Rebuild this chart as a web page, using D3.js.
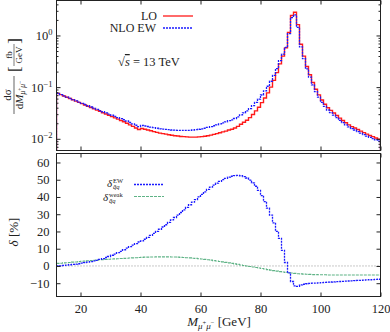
<!DOCTYPE html>
<html>
<head>
<meta charset="utf-8">
<script src="https://cdn.jsdelivr.net/npm/d3@7"></script>
<style>
  body { margin: 0; background: #fff; }
  svg text { font-family: "Liberation Serif", "DejaVu Serif", serif; fill: #222; }
</style>
</head>
<body>
<div id="chart"></div>
<script>
// lower edge of each 1 GeV bin in M(mu+mu-)
const massBins = [12,13,14,15,16,17,18,19,20,21,22,23,24,25,26,27,28,29,30,31,32,33,34,35,36,37,38,39,
  40,41,42,43,44,45,46,47,48,49,50,51,52,53,54,55,56,57,58,59,60,61,62,63,64,65,66,67,68,69,
  70,71,72,73,74,75,76,77,78,79,80,81,82,83,84,85,86,87,88,89,90,91,92,93,94,95,96,97,98,99,
  100,101,102,103,104,105,106,107,108,109,110,111,112,113,114,115,116,117,118,119];
const massEnd = 120;

// dsigma/dM [fb/GeV]
const lo = [0.0759,0.0716,0.0676,0.0638,0.0603,0.0569,0.0537,0.0507,0.0479,0.0452,0.0427,0.0403,0.0380,0.0359,0.0339,0.0320,
  0.0302,0.0285,0.0269,0.0254,0.0240,0.0226,0.0214,0.0200,0.0186,0.0174,0.0162,0.0151,
  0.0158,0.0153,0.0148,0.0143,0.0138,0.0133,0.0129,0.0126,0.0123,0.0120,0.0117,0.0115,0.0113,0.0111,0.0110,0.0109,0.0108,0.0108,
  0.0108,0.0109,0.0110,0.0112,0.0115,0.0118,0.0122,0.0126,0.0131,0.0136,0.0141,0.0148,0.0153,0.0162,0.0174,0.0191,0.0209,0.0229,
  0.0257,0.0295,0.0347,0.0407,0.0501,0.0617,0.0776,0.100,0.135,0.191,0.282,0.398,0.575,1.14,2.44,2.82,1.62,0.676,0.398,0.251,
  0.174,0.123,0.0912,0.0708,0.0562,0.0468,0.0398,0.0355,0.0316,0.0282,0.0251,0.0226,0.0204,0.0186,0.0172,0.0162,0.0151,0.0141,
  0.0132,0.0123,0.0116,0.0110,0.0104,0.0098];
const nloEW = [0.0759,0.0717,0.0678,0.0641,0.0607,0.0574,0.0543,0.0514,0.0487,0.0461,0.0436,0.0413,0.0391,0.0371,0.0352,0.0334,
  0.0317,0.0301,0.0286,0.0272,0.0258,0.0245,0.0234,0.0221,0.0207,0.0195,0.0183,0.0172,
  0.0181,0.0177,0.0173,0.0168,0.0164,0.0160,0.0156,0.0154,0.0152,0.0150,0.0148,0.0147,0.0146,0.0145,0.0146,0.0146,0.0146,0.0148,
  0.0150,0.0153,0.0156,0.0160,0.0166,0.0172,0.0179,0.0186,0.0195,0.0204,0.0213,0.0224,0.0233,0.0247,0.0265,0.0291,0.0317,0.0346,
  0.0385,0.0437,0.0507,0.0585,0.0705,0.0847,0.104,0.130,0.169,0.229,0.327,0.434,0.587,1.09,2.22,2.50,1.43,0.602,0.356,0.225,
  0.156,0.111,0.0822,0.0639,0.0508,0.0424,0.0361,0.0322,0.0287,0.0256,0.0228,0.0206,0.0186,0.0170,0.0157,0.0148,0.0138,0.0129,
  0.0121,0.0113,0.0107,0.0101,0.00959,0.00905];

// relative corrections [%]
const deltaEW = [0.0,0.1,0.3,0.5,0.7,0.9,1.1,1.3,1.6,1.9,2.2,2.5,2.9,3.3,3.8,4.3,4.9,5.5,6.2,6.9,7.7,8.5,9.4,10.3,11.2,12.1,13.0,13.9,
  14.5,15.5,16.6,17.7,18.9,20.1,21.3,22.6,23.9,25.3,26.7,28.1,29.5,31.0,32.5,34.0,35.5,37.0,38.5,40.0,41.5,43.0,44.4,45.7,46.9,48.0,
  49.0,50.0,50.8,51.5,52.0,52.4,52.5,52.3,51.8,51.0,49.8,48.2,46.2,43.8,40.8,37.3,33.5,29.5,25.0,20.0,16.0,9.0,2.0,-4.0,-9.0,-11.5,
  -11.8,-11.0,-10.6,-10.3,-10.1,-10.0,-9.9,-9.8,-9.6,-9.5,-9.4,-9.3,-9.2,-9.1,-9.0,-8.9,-8.8,-8.7,-8.6,-8.5,-8.4,-8.3,-8.2,-8.1,
  -8.0,-7.9,-7.8,-7.7];
const deltaWeak = [1.5,1.6,1.8,1.9,2.0,2.2,2.3,2.5,2.7,2.8,3.0,3.1,3.3,3.4,3.6,3.7,3.8,3.9,4.0,4.1,4.2,4.3,4.4,4.5,4.6,4.7,4.8,4.9,
  5.0,5.1,5.1,5.2,5.2,5.3,5.3,5.3,5.3,5.3,5.2,5.2,5.1,5.0,4.9,4.8,4.7,4.5,4.4,4.2,4.0,3.8,3.6,3.4,3.1,2.9,2.6,2.4,2.1,1.8,1.5,1.2,
  0.9,0.6,0.3,0.0,-0.3,-0.6,-0.9,-1.2,-1.5,-1.8,-2.1,-2.4,-2.7,-3.0,-3.3,-3.5,-3.7,-3.9,-4.1,-4.3,-4.5,-4.6,-4.7,-4.8,-4.9,-5.0,
  -5.0,-5.1,-5.1,-5.1,-5.2,-5.2,-5.2,-5.2,-5.2,-5.2,-5.2,-5.2,-5.2,-5.2,-5.2,-5.2,-5.2,-5.2,-5.2,-5.2,-5.2,-5.2];

const xTicks = [20, 40, 60, 80, 100, 120];
const topTicks = [0.01, 0.1, 1];
const topTickExp = ["\u22122", "\u22121", "0"];
const topMinor = [0.007,0.008,0.009,0.02,0.03,0.04,0.05,0.06,0.07,0.08,0.09,0.2,0.3,0.4,0.5,0.6,0.7,0.8,0.9,2,3,4];
const botTicks = [-10, 0, 10, 20, 30, 40, 50, 60];

const W = 390, H = 332;
const svg = d3.select("#chart").append("svg")
    .attr("width", W).attr("height", H);

const x = d3.scaleLinear().domain([12, 120]).range([56.5, 380.5]);
const yTop = d3.scaleLog().domain([0.00594, 4.75]).range([150.5, 0.5]);
const yBot = d3.scaleLinear().domain([-17.7, 65.2]).range([296.5, 153.5]);

svg.append("clipPath").attr("id", "clipTop")
  .append("rect").attr("x", 56.5).attr("y", 0.5).attr("width", 324).attr("height", 150);
svg.append("clipPath").attr("id", "clipBot")
  .append("rect").attr("x", 56.5).attr("y", 153.5).attr("width", 324).attr("height", 143);

// histograms, top panel
function histPoints(vals) {
  const pts = [[massBins[0], yTop.domain()[0]]];
  massBins.forEach((m, i) => pts.push([m, vals[i]]));
  pts.push([massEnd, vals[vals.length - 1]]);
  pts.push([massEnd, yTop.domain()[0]]);
  return pts;
}
const lineTop = d3.line().x(d => x(d[0])).y(d => yTop(d[1])).curve(d3.curveStepAfter);

const gTop = svg.append("g").attr("clip-path", "url(#clipTop)");
gTop.append("path").attr("d", lineTop(histPoints(lo)))
    .attr("fill", "none").attr("stroke", "#ff1a1a").attr("stroke-width", 1.4);
gTop.append("path").attr("d", lineTop(histPoints(nloEW)))
    .attr("fill", "none").attr("stroke", "#1a1aff").attr("stroke-width", 1.3)
    .attr("stroke-dasharray", "2,1");

// corrections, bottom panel
const lineBot = d3.line().x(d => x(d[0])).y(d => yBot(d[1])).curve(d3.curveStepAfter);
function stepPoints(vals) {
  const pts = massBins.map((m, i) => [m, vals[i]]);
  pts.push([massEnd, vals[vals.length - 1]]);
  return pts;
}
const gBot = svg.append("g").attr("clip-path", "url(#clipBot)");
gBot.append("line")
    .attr("x1", x(12)).attr("x2", x(120)).attr("y1", yBot(0)).attr("y2", yBot(0))
    .attr("stroke", "#777").attr("stroke-width", 0.8).attr("stroke-dasharray", "1,2");
gBot.append("path").attr("d", lineBot(stepPoints(deltaWeak)))
    .attr("fill", "none").attr("stroke", "#5fb386").attr("stroke-width", 1.1)
    .attr("stroke-dasharray", "3,1");
gBot.append("path").attr("d", lineBot(stepPoints(deltaEW)))
    .attr("fill", "none").attr("stroke", "#1a1aff").attr("stroke-width", 1.3)
    .attr("stroke-dasharray", "2,1");

// axes
function clean(g) {
  g.select(".domain").remove();
  g.selectAll("line").attr("stroke", "#222");
  g.selectAll("text").attr("font-family", "Liberation Serif, DejaVu Serif, serif")
    .attr("font-size", 12.5).attr("fill", "#222");
}
// top panel
svg.append("g").attr("transform", "translate(0,150.5)")
  .call(d3.axisBottom(x).tickValues(xTicks).tickSize(-4).tickFormat(""))
  .call(clean);
svg.append("g").attr("transform", "translate(0,0.5)")
  .call(d3.axisTop(x).tickValues(xTicks).tickSize(-4).tickFormat(""))
  .call(clean);
const yl = svg.append("g").attr("transform", "translate(56.5,0)")
  .call(d3.axisLeft(yTop).tickValues(topTicks).tickSize(-4).tickFormat(""))
  .call(clean);
yl.selectAll(".tick").append("text")
    .attr("x", -4).attr("dy", "0.32em").attr("text-anchor", "end")
    .attr("font-size", 12.5).attr("fill", "#222")
    .each(function(d, i) {
      const t = d3.select(this);
      t.append("tspan").text("10");
      t.append("tspan").attr("dy", -5).attr("font-size", 8.5).text(topTickExp[i]);
    });
svg.append("g").attr("transform", "translate(56.5,0)")
  .call(d3.axisLeft(yTop).tickValues(topMinor).tickSize(-2).tickFormat(""))
  .call(clean);
svg.append("g").attr("transform", "translate(380.5,0)")
  .call(d3.axisRight(yTop).tickValues(topTicks).tickSize(-4).tickFormat(""))
  .call(clean);
svg.append("g").attr("transform", "translate(380.5,0)")
  .call(d3.axisRight(yTop).tickValues(topMinor).tickSize(-2).tickFormat(""))
  .call(clean);

// bottom panel
svg.append("g").attr("transform", "translate(0,296.5)")
  .call(d3.axisBottom(x).tickValues(xTicks).tickSize(-4).tickPadding(8))
  .call(clean);
svg.append("g").attr("transform", "translate(0,153.5)")
  .call(d3.axisTop(x).tickValues(xTicks).tickSize(-4).tickFormat(""))
  .call(clean);
svg.append("g").attr("transform", "translate(56.5,0)")
  .call(d3.axisLeft(yBot).tickValues(botTicks).tickSize(-4).tickPadding(7)
    .tickFormat(d => d < 0 ? "\u2212" + Math.abs(d) : d))
  .call(clean);
svg.append("g").attr("transform", "translate(380.5,0)")
  .call(d3.axisRight(yBot).tickValues(botTicks).tickSize(-4).tickFormat(""))
  .call(clean);

// frames
[[0.5, 150.5], [153.5, 296.5]].forEach(([t, b]) => {
  svg.append("rect").attr("x", 56.5).attr("y", t).attr("width", 324).attr("height", b - t)
    .attr("fill", "none").attr("stroke", "#222").attr("stroke-width", 1);
});

// legend, top
svg.append("text").attr("x", 157).attr("y", 19.5).attr("text-anchor", "end")
   .attr("font-size", 12).text("LO");
svg.append("line").attr("x1", 163).attr("x2", 193).attr("y1", 16).attr("y2", 16)
   .attr("stroke", "#ff1a1a").attr("stroke-width", 1.3);
svg.append("text").attr("x", 156).attr("y", 32).attr("text-anchor", "end")
   .attr("font-size", 12).text("NLO EW");
svg.append("line").attr("x1", 163).attr("x2", 193).attr("y1", 28).attr("y2", 28)
   .attr("stroke", "#1a1aff").attr("stroke-width", 1.3).attr("stroke-dasharray", "2,1");

const sq = svg.append("text").attr("x", 118).attr("y", 66).attr("font-size", 12.5);
sq.append("tspan").text("\u221A");
sq.append("tspan").attr("font-style", "italic").attr("text-decoration", "overline").text("s");
sq.append("tspan").text(" = 13 TeV");

// legend, bottom
function deltaLabel(xd, y, sup) {
  svg.append("text").attr("x", xd).attr("y", y).attr("font-size", 11)
     .attr("font-style", "italic").text("\u03B4");
  svg.append("text").attr("x", xd + 6).attr("y", y - 4).attr("font-size", 6.5).text(sup);
  svg.append("text").attr("x", xd + 6).attr("y", y + 2).attr("font-size", 6.5)
     .attr("font-style", "italic").text("q\u0304q");
}
deltaLabel(107, 187, "EW");
svg.append("line").attr("x1", 134).attr("x2", 164).attr("y1", 184.5).attr("y2", 184.5)
   .attr("stroke", "#1a1aff").attr("stroke-width", 1.3).attr("stroke-dasharray", "2,1");
deltaLabel(103, 201, "weak");
svg.append("line").attr("x1", 134).attr("x2", 164).attr("y1", 196.5).attr("y2", 196.5)
   .attr("stroke", "#5fb386").attr("stroke-width", 1.1).attr("stroke-dasharray", "3,1");

// axis titles
const xt = svg.append("text").attr("x", 219).attr("y", 326).attr("text-anchor", "middle")
   .attr("font-size", 13);
xt.append("tspan").attr("font-style", "italic").text("M");
xt.append("tspan").attr("font-size", 9).attr("dy", 3).attr("font-style", "italic").text("\u03BC");
xt.append("tspan").attr("font-size", 6.5).attr("dy", -4).text("+");
xt.append("tspan").attr("font-size", 9).attr("dy", 4).attr("font-style", "italic").text("\u03BC");
xt.append("tspan").attr("font-size", 6.5).attr("dy", -4).text("\u2212");
xt.append("tspan").attr("dy", 1).text(" [GeV]");

const dl = svg.append("text").attr("transform", "translate(18,232) rotate(-90)")
   .attr("text-anchor", "middle").attr("font-size", 13);
dl.append("tspan").attr("font-style", "italic").text("\u03B4");
dl.append("tspan").text(" [%]");

// dsigma/dM label (rotated fraction)
const yg = svg.append("g").attr("transform", "translate(14,76) rotate(-90)");
yg.append("text").attr("x", -19).attr("y", -3).attr("text-anchor", "middle")
  .attr("font-size", 11).text("d\u03C3");
yg.append("line").attr("x1", -38).attr("x2", 0).attr("y1", 0).attr("y2", 0)
  .attr("stroke", "#222").attr("stroke-width", 0.7);
const den = yg.append("text").attr("x", -19).attr("y", 9).attr("text-anchor", "middle")
  .attr("font-size", 11);
den.append("tspan").text("d");
den.append("tspan").attr("font-style", "italic").text("M");
den.append("tspan").attr("font-size", 7.5).attr("dy", 2).attr("font-style", "italic").text("\u03BC");
den.append("tspan").attr("font-size", 5.5).attr("dy", -3.5).text("+");
den.append("tspan").attr("font-size", 7.5).attr("dy", 3.5).attr("font-style", "italic").text("\u03BC");
den.append("tspan").attr("font-size", 5.5).attr("dy", -3.5).text("\u2212");
yg.append("text").attr("x", 4).attr("y", 6).attr("font-size", 17).text("[");
yg.append("text").attr("x", 38).attr("y", 6).attr("font-size", 17).attr("text-anchor", "end").text("]");
yg.append("text").attr("x", 21).attr("y", -2).attr("text-anchor", "middle")
  .attr("font-size", 9).text("fb");
yg.append("line").attr("x1", 10).attr("x2", 32).attr("y1", 0).attr("y2", 0)
  .attr("stroke", "#222").attr("stroke-width", 0.6);
yg.append("text").attr("x", 21).attr("y", 8).attr("text-anchor", "middle")
  .attr("font-size", 9).text("GeV");
</script>
</body>
</html>
